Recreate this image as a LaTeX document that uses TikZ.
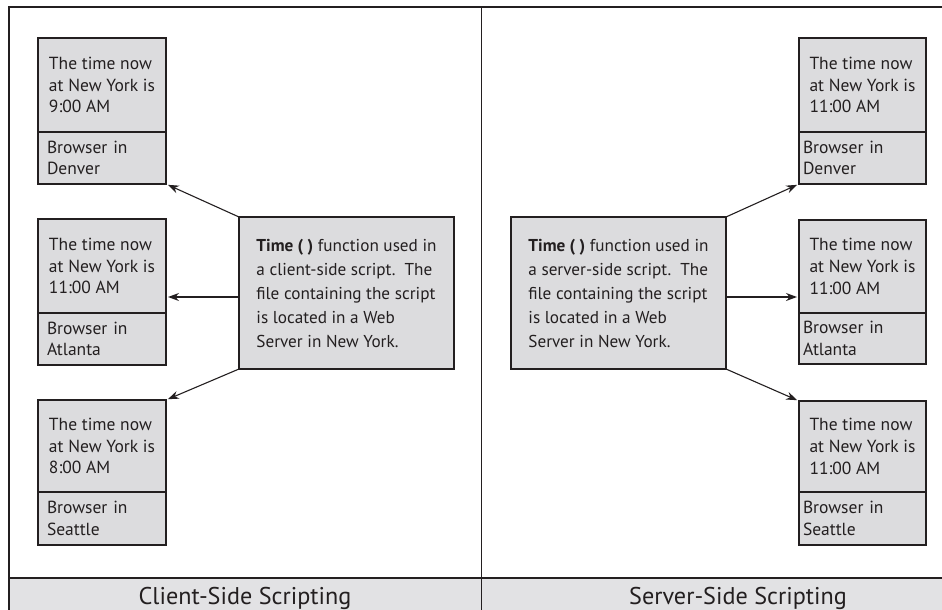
\documentclass[tikz,border=0pt]{standalone}
\usepackage{fontspec}
\setmainfont{PT Sans}
\usetikzlibrary{arrows.meta}
\definecolor{boxgray}{HTML}{DCDCDE}
\definecolor{bangray}{HTML}{E2E2E4}
\definecolor{ink}{HTML}{231F20}
\newcommand{\smallfnt}{\fontsize{17.5}{21.7}\selectfont}
\newcommand{\midfnt}{\fontsize{17.2}{24}\selectfont}
\newcommand{\banfnt}{\fontsize{24.2}{30}\selectfont}
\begin{document}
\begin{tikzpicture}[x=1pt,y=-1pt,
  frame/.style={draw=ink, line width=1.3pt},
  part/.style={draw=ink, fill=boxgray, line width=1.1pt, outer sep=0pt, inner sep=0pt,
    minimum width=128pt, align=left, font=\smallfnt, text=ink},
  toppart/.style={part, minimum height=94pt, anchor=north},
  botpart/.style={part, minimum height=52pt, anchor=north, text width=110pt},
  botpartr/.style={part, minimum height=52pt, anchor=north, text width=119pt},
  cbox/.style={draw=ink, fill=boxgray, line width=1.1pt, outer sep=0pt, inner sep=0pt,
    minimum width=215pt, minimum height=152pt, align=left, font=\midfnt, text=ink},
  arr/.style={draw=ink, line width=1.1pt, -{Stealth[length=11pt,width=8pt]}, shorten >=2pt},
  bantext/.style={font=\banfnt, text=ink, anchor=base, inner sep=0pt}]
\useasboundingbox (0,0) rectangle (942,610);
\clip (0,0) rectangle (942,610);
% frame and banner
\fill[bangray] (9,578) rectangle (942,610);
\draw[frame] (942,7) -- (9,7) -- (9,610);
\draw[frame] (481.5,7) -- (481.5,610);
\draw[frame] (9,578) -- (942,578);
\node[bantext] (lab1) at (245,604) {Client-Side Scripting};
\node[bantext] (lab2) at (738,604) {Server-Side Scripting};
% left browsers
\node[toppart] (l1t) at (102,38) {The time now\\at New York is\\9:00 AM};
\node[botpart] (l1b) at (l1t.south) {Browser in\\Denver};
\node[toppart] (l2t) at (102,219) {The time now\\at New York is\\11:00 AM};
\node[botpart] (l2b) at (l2t.south) {Browser in\\Atlanta};
\node[toppart, minimum height=92pt] (l3t) at (102,400) {The time now\\at New York is\\8:00 AM};
\node[botpart, minimum height=53pt] (l3b) at (l3t.south) {Browser in\\Seattle};
% right browsers
\node[toppart, minimum width=127pt] (r1t) at (862.5,38) {The time now\\at New York is\\11:00 AM};
\node[botpartr, minimum width=127pt] (r1b) at (r1t.south) {Browser in\\Denver};
\node[toppart, minimum width=127pt, minimum height=93pt] (r2t) at (862.5,220) {The time now\\at New York is\\11:00 AM};
\node[botpartr, minimum width=127pt, minimum height=51pt] (r2b) at (r2t.south) {Browser in\\Atlanta};
\node[toppart, minimum width=127pt, minimum height=91pt] (r3t) at (862.5,401) {The time now\\at New York is\\11:00 AM};
\node[botpartr, minimum width=127pt, minimum height=53pt] (r3b) at (r3t.south) {Browser in\\Seattle};
% central boxes
\node[cbox] (cl) at (346.5,293) {\textbf{Time ( )} function used in\\a client-side script.\ \ The\\file containing the script\\is located in a Web\\Server in New York.};
\node[cbox] (cr) at (618.5,293) {\textbf{Time ( )} function used in\\a server-side script.\ \ The\\file containing the script\\is located in a Web\\Server in New York.};
% arrows
\coordinate (clm) at ([yshift=-4pt]cl.west);
\coordinate (crm) at ([yshift=-4pt]cr.east);
\draw[arr] (cl.north west) -- (l1b.south east);
\draw[arr] (clm) -- (clm -| l2t.east);
\draw[arr] (cl.south west) -- (l3t.north east);
\draw[arr] (cr.north east) -- (r1b.south west);
\draw[arr] (crm) -- (crm -| r2t.west);
\draw[arr] (cr.south east) -- (r3t.north west);
\end{tikzpicture}
\end{document}
